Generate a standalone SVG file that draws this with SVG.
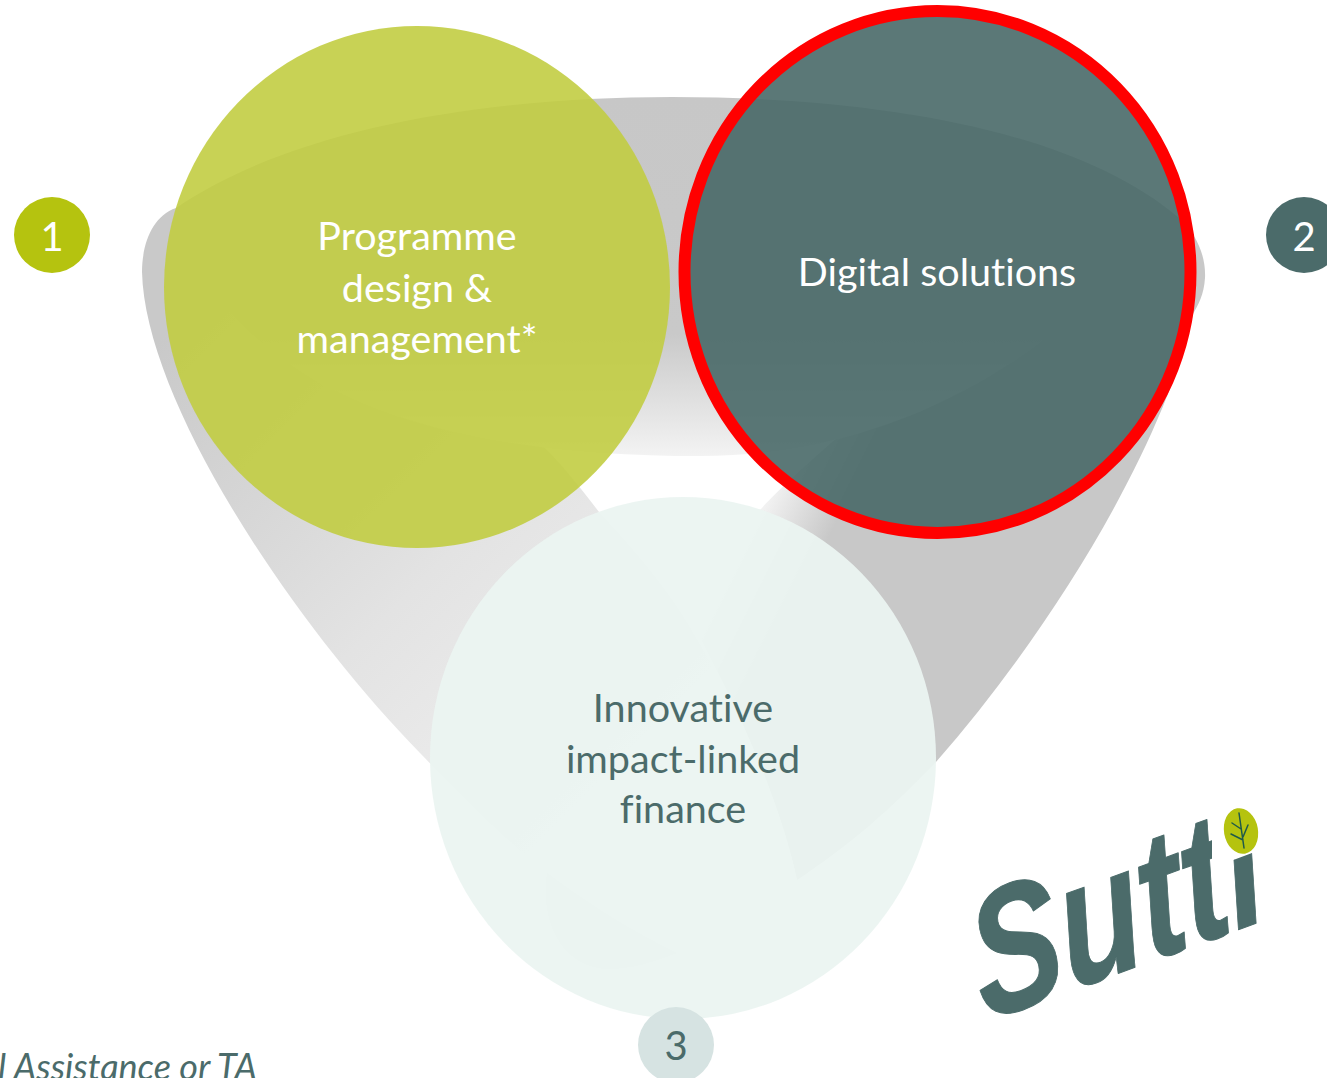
<svg xmlns="http://www.w3.org/2000/svg" width="1327" height="1078" viewBox="0 0 1327 1078">
<style>
text{font-family:"Lato","Carlito","Liberation Sans",sans-serif;text-anchor:middle;font-variant-ligatures:none}
.lbl{font-size:39.5px}
.w{fill:#ffffff}
.d{fill:#4b6b6a}
.num{font-size:40px}
.c1{fill:#c1cd40;fill-opacity:.89}
.c2{fill:#476766;fill-opacity:.89}
.c3{fill:#ebf4f1;fill-opacity:.94}
</style>
<defs>
<linearGradient id="gTop" gradientUnits="userSpaceOnUse" x1="0" y1="97" x2="0" y2="456">
<stop offset="0" stop-color="#c7c7c7"/><stop offset=".66" stop-color="#c9c9c9"/><stop offset="1" stop-color="#f3f3f3"/>
</linearGradient>
<linearGradient id="gLeft" gradientUnits="userSpaceOnUse" x1="200" y1="300" x2="800" y2="900">
<stop offset="0" stop-color="#c9c9c9"/><stop offset=".42" stop-color="#e3e3e3"/><stop offset="1" stop-color="#fbfbfb"/>
</linearGradient>
<linearGradient id="gRight" gradientUnits="userSpaceOnUse" x1="765" y1="490" x2="835" y2="525">
<stop offset="0" stop-color="#f6f6f6"/><stop offset="1" stop-color="#c8c8c8"/>
</linearGradient>
<clipPath id="noDot"><polygon points="950,760 1212,760 1212,868 1300,835 1300,1040 950,1040"/></clipPath>
</defs>
<rect width="1327" height="1078" fill="#ffffff"/>
<g id="connectors">
<path id="arc-right" fill="url(#gRight)" d="M1179,218 C1198,235 1206,258 1205,278 C1204,295 1198,305 1193,314 C1165,440 1060,620 936,762 C890,810 850,845 797,880 C780,800 735,700 690,620 L760,510 C796,471 916,364 1038,289 C1090,260 1140,235 1179,218 Z"/>
<path id="arc-left" fill="url(#gLeft)" d="M176,208 C152,216 142,245 142,272 C145,400 290,620 420,753 C470,805 510,845 547,873 C590,905 630,930 677,953 C710,965 750,975 790,962 C805,930 800,900 797,880 C780,800 735,700 696,637 C670,590 630,545 599,512 C580,487 565,468 544,447 C470,370 350,260 176,208 Z"/>
<path id="arc-tail" fill="#e3e3e3" d="M547,873 C590,905 630,930 677,953 C650,964 625,970 605,969 C560,965 540,920 547,873 Z"/>
<path id="arc-top" fill="url(#gTop)" d="M176,208 C290,130 480,97 672,97 C860,97 1070,125 1179,218 C1100,300 950,456 700,456 C450,456 230,400 176,208 Z"/>
</g>
<g id="node-1">
<ellipse class="c1" cx="417" cy="287" rx="253" ry="261"/>
<text class="lbl w" x="417" y="250">Programme</text>
<text class="lbl w" x="417" y="302">design &amp;</text>
<text class="lbl w" x="417" y="353">management*</text>
</g>
<g id="node-2">
<ellipse class="c2" cx="937.5" cy="272" rx="253" ry="261" stroke="#ff0000" stroke-width="12"/>
<text class="lbl w" x="937" y="286">Digital solutions</text>
</g>
<g id="node-3">
<ellipse class="c3" cx="683" cy="758" rx="253" ry="261"/>
<text class="lbl d" x="683" y="722">Innovative</text>
<text class="lbl d" x="683" y="773">impact-linked</text>
<text class="lbl d" x="683" y="823">finance</text>
</g>
<g id="badge-1">
<circle cx="52" cy="235" r="38" fill="#b5c30f"/>
<text class="num w" x="52" y="251">1</text>
</g>
<g id="badge-2">
<circle cx="1304" cy="235" r="38" fill="#4b6b6a"/>
<text class="num w" x="1304" y="251">2</text>
</g>
<g id="badge-3">
<circle cx="676" cy="1045" r="38" fill="#d6e3e2"/>
<text class="num d" x="676" y="1060">3</text>
</g>
<text id="footnote" class="d" x="-2" y="1080" font-size="36" font-style="italic" style="text-anchor:start">l Assistance or TA</text>
<g id="logo">
<g clip-path="url(#noDot)">
<text transform="translate(985,1022) rotate(-20) skewX(-8) scale(.8,1.02)" x="0" y="0" font-size="172" font-weight="700" font-style="italic" fill="#4b6b6a" stroke="#4b6b6a" stroke-width="1" stroke-linejoin="round" style="font-family:'Liberation Sans',sans-serif;text-anchor:start">Sutti</text>
</g>
<ellipse cx="1241" cy="831" rx="17" ry="23" transform="rotate(-10 1241 831)" fill="#b5c30f"/>
<path d="M1239,813 L1244,848 M1232,823 L1241,829 M1231,834 L1243,840 M1248,825 L1243,837" fill="none" stroke="#1f5a4a" stroke-width="1.5" stroke-linecap="round"/>
</g>
</svg>
